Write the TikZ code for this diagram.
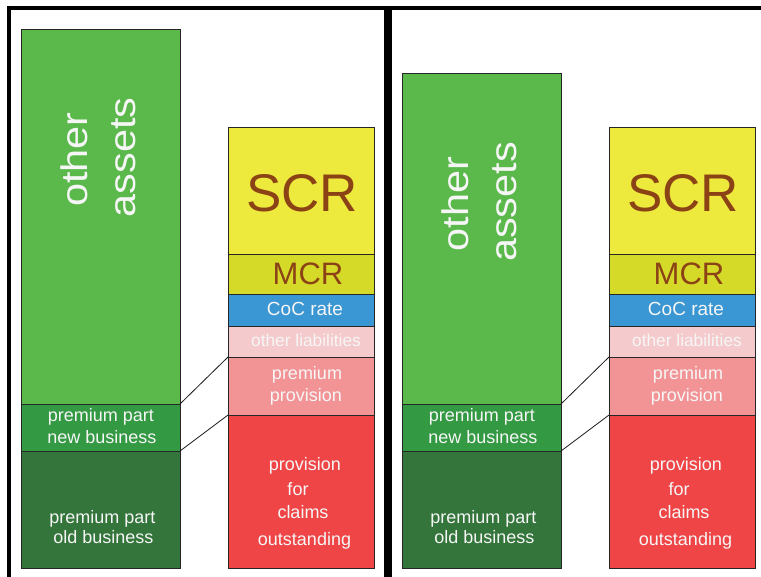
\documentclass[tikz,border=0pt]{standalone}
\usepackage{fontspec}
\setmainfont{Liberation Sans}
\usepackage{graphicx}
\definecolor{oagreen}{HTML}{5AB94A}
\definecolor{nbgreen}{HTML}{339943}
\definecolor{obgreen}{HTML}{33753A}
\definecolor{scryel}{HTML}{EDEA3D}
\definecolor{mcryel}{HTML}{D5D928}
\definecolor{cocblue}{HTML}{3A97D3}
\definecolor{olpink}{HTML}{F4CACC}
\definecolor{pppink}{HTML}{F29496}
\definecolor{pcred}{HTML}{F04546}
\definecolor{brn}{HTML}{8B4316}
\definecolor{wtxt}{HTML}{F6F6F6}
\tikzset{
  blk/.style={draw=black!85, line width=0.9pt, inner sep=0pt, outer sep=0pt, anchor=north west},
  lbl/.style={text=wtxt, inner sep=0pt, anchor=base, font=\fontsize{18}{21}\selectfont},
  big/.style={text=wtxt, inner sep=0pt, anchor=base, rotate=90},
  brt/.style={text=brn, inner sep=0pt, anchor=base},
  frame/.style={draw=black},
  conn/.style={draw=black!90, line width=0.8pt}
}
\begin{document}
\begin{tikzpicture}[x=1pt,y=-1pt]
\useasboundingbox (0,0) rectangle (761,577);
\fill[white] (0,0) rectangle (761,577);
% frame
\draw[frame, line width=4.6pt] (9,580) -- (9,8) -- (765,8);
\draw[frame, line width=7.6pt] (388,8) -- (388,580);
\foreach \s/\p/\top/\ty in {0/L/29/158.5, 381/R/73/203}{
  \begin{scope}[xshift=\s pt]
  % assets
  \node[blk, fill=oagreen, minimum width=159pt, minimum height={404-\top}] (oa\p) at (21,\top) {};
  \node[blk, fill=nbgreen, minimum width=159pt, minimum height=47pt] (nb\p) at (21,404) {};
  \node[blk, fill=obgreen, minimum width=159pt, minimum height=117pt] (ob\p) at (21,451) {};
  % liabilities
  \node[blk, fill=scryel, minimum width=146pt, minimum height=127pt] (scr\p) at (228,127) {};
  \node[blk, fill=mcryel, minimum width=146pt, minimum height=40pt] (mcr\p) at (228,254) {};
  \node[blk, fill=cocblue, minimum width=146pt, minimum height=32pt] (coc\p) at (228,294) {};
  \node[blk, fill=olpink, minimum width=146pt, minimum height=31pt] (ol\p) at (228,326) {};
  \node[blk, fill=pppink, minimum width=146pt, minimum height=58pt] (pp\p) at (228,357) {};
  \node[blk, fill=pcred, minimum width=146pt, minimum height=153pt] (pc\p) at (228,415) {};
  % connectors
  \draw[conn] (oa\p.south east) -- (pp\p.north west);
  \draw[conn] (nb\p.south east) -- (pc\p.north west);
  % texts
  \node[big] (other\p) at (87,\ty+1) {\scalebox{1.12}[1]{\fontsize{37}{44}\selectfont other}};
  \node[big] (assets\p) at (135,\ty-1) {\scalebox{1.12}[1]{\fontsize{37}{44}\selectfont assets}};
  \node[lbl] (nb1\p) at (101,422) {premium part};
  \node[lbl] (nb2\p) at (102,443) {new business};
  \node[lbl] (ob1\p) at (102.5,523) {premium part};
  \node[lbl] (ob2\p) at (103.5,543) {old business};
  \node[brt, font=\fontsize{53}{60}\selectfont] (scrt\p) at (302,212) {SCR};
  \node[brt, font=\fontsize{31}{36}\selectfont] (mcrt\p) at (308,285) {MCR};
  \node[lbl, font=\fontsize{19}{22}\selectfont] (coct\p) at (305,316) {CoC rate};
  \node[lbl, font=\fontsize{17.3}{21}\selectfont] (olt\p) at (306,347) {other liabilities};
  \node[lbl] (pp1\p) at (307,380) {premium};
  \node[lbl] (pp2\p) at (306,402) {provision};
  \node[lbl] (pc1\p) at (305,471) {provision};
  \node[lbl] (pc2\p) at (298,495) {for};
  \node[lbl] (pc3\p) at (303,518) {claims};
  \node[lbl] (pc4\p) at (304.5,545) {outstanding};
  \end{scope}
}
\end{tikzpicture}
\end{document}
